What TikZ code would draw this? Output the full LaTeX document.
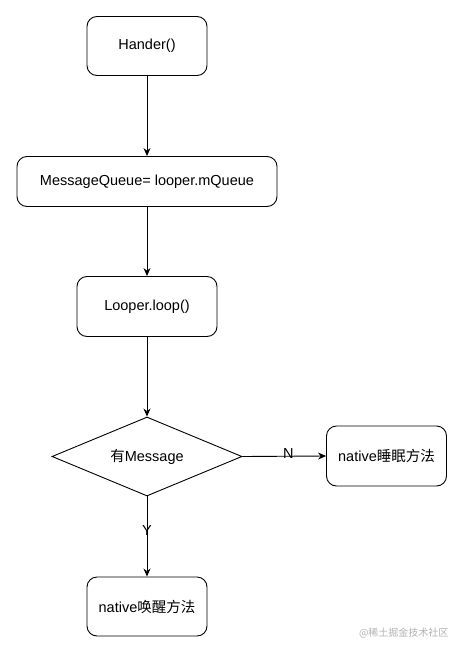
\documentclass[tikz,border=0pt]{standalone}
\usepackage{fontspec}
\setmainfont{Liberation Sans}
\newfontfamily\cjk{Noto Sans CJK SC}
\usetikzlibrary{arrows.meta,shapes.geometric}
\tikzset{
  box/.style={draw=black, line width=0.9pt, rounded corners=10pt, inner sep=0pt, align=center},
  conn/.style={draw=black, line width=0.9pt, -{Stealth[length=8pt,width=7pt]}},
  lbl/.style={font=\fontsize{14.5}{17}\selectfont}
}
\begin{document}
\begin{tikzpicture}[x=1pt,y=-1pt]
\useasboundingbox[fill=white] (0,0) rectangle (463,653);
\node[box, lbl, minimum width=120pt, minimum height=59pt] (hander) at (147,46) {Hander()};
\node[box, lbl, minimum width=260pt, minimum height=50pt] (mq) at (147,181.5) {MessageQueue= looper.mQueue};
\node[box, lbl, minimum width=140pt, minimum height=60pt] (loop) at (147,306.5) {Looper.loop()};
\node[draw=black, line width=0.9pt, diamond, aspect=2.4, minimum width=190pt, minimum height=79pt, inner sep=0pt, lbl] (dec) at (147,456.5) {};
\node[lbl] at (147,456.5) {{\cjk 有}Message};
\node[box, lbl, minimum width=120pt, minimum height=60pt] (sleep) at (386.5,456) {native{\cjk 睡眠方法}};
\node[box, lbl, minimum width=120pt, minimum height=59pt] (wake) at (147,606.5) {native{\cjk 唤醒方法}};
\draw[conn] (hander) -- (mq);
\draw[conn] (mq) -- (loop);
\draw[conn] (loop) -- (dec.north);
\draw[conn] (dec.east) -- node[lbl, pos=0.55, inner sep=0pt, yshift=3pt] (nl) {N} (sleep.west);
\draw[conn] (dec.south) -- node[lbl, pos=0.42, inner sep=0pt] (yl) {Y} (wake.north);
\node[text=black!30, font=\cjk\fontsize{10}{12}\selectfont, anchor=east] (wm) at (452,633) {@稀土掘金技术社区};
\end{tikzpicture}
\end{document}
